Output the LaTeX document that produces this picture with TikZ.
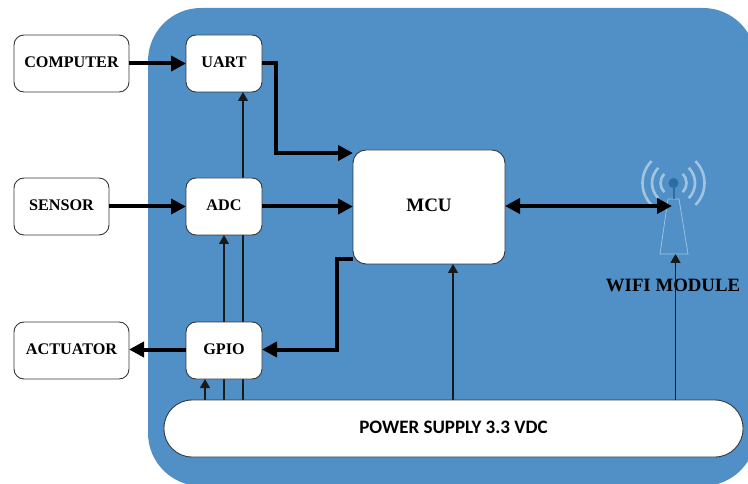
\documentclass[tikz,border=0pt]{standalone}
\usepackage{fontspec}
\setmainfont{Liberation Serif}
\newfontfamily\supplyfont{Carlito}
\usetikzlibrary{arrows.meta,backgrounds}
\definecolor{boardblue}{HTML}{5090C6}
\definecolor{edgegrey}{HTML}{33383D}
\definecolor{mastblue}{HTML}{2F6CA3}
\definecolor{waveblue}{HTML}{A3C4E0}
\tikzset{
	block/.style={draw=edgegrey, fill=white, line width=0.9pt, rounded corners=#1, outer sep=0pt, text depth=2pt, font=\bfseries\fontsize{16.2}{18}\selectfont},
	block/.default=10pt,
	thick wire/.style={line width=4pt, -{Triangle[length=15pt,width=15pt]}},
	thin wire/.style={line width=1.3pt, color=black!90, -{Triangle[length=9pt,width=10pt]}},
}

\begin{document}
\begin{tikzpicture}[x=1pt, y=-1pt]
		%%%%% START %%%%%
		\useasboundingbox (0, 0) rectangle (748, 484);

		\coordinate (antbase) at (675.5, 254);
		\coordinate (antfeed) at (672, 206);

		\node[font=\bfseries\fontsize{18.8}{22}\selectfont] (wifi) at (673, 285.5) {WIFI MODULE};

		\node[block, minimum width=115pt, minimum height=57pt] (computer) at (71.5, 63.5) {COMPUTER};
		\node[block, minimum width=95pt, minimum height=57pt] (sensor) at (61.5, 206.5) {SENSOR};
		\node[block, minimum width=115pt, minimum height=57pt] (actuator) at (71.5, 350.5) {ACTUATOR};

		\node[block, minimum width=76pt, minimum height=57pt] (uart) at (224, 63.5) {UART};
		\node[block, minimum width=76pt, minimum height=57pt] (adc) at (224, 206.5) {ADC};
		\node[block, minimum width=76pt, minimum height=57pt] (gpio) at (224, 350.5) {GPIO};

		\node[block=13pt, minimum width=152pt, minimum height=114pt, text depth=4pt, font=\bfseries\fontsize{19}{22}\selectfont] (mcu) at (429, 207) {MCU};
		\node[block=28pt, minimum width=579pt, minimum height=57pt, font=\supplyfont\bfseries\fontsize{19}{22}\selectfont] (supply) at (453.5, 428.5) {POWER SUPPLY 3.3 VDC};

		% tap points on the supply
		\coordinate (tapone) at (205, 400);
		\coordinate (taptwo) at (224, 400);
		\coordinate (tapthree) at (243, 400);
		\coordinate (tapmcu) at (453, 400);
		\coordinate (tapwifi) at (675.5, 400);

		% board, antenna and the wires that pass behind the boxes
		\begin{scope}[on background layer]
			\fill[boardblue, rounded corners=53pt] (148, 8) rectangle (756, 486);

			\draw[line width=0.7pt, color=waveblue] (668, 199) -- (679, 199) -- (688, 254) -- (660, 254) -- cycle;
			\draw[line width=2pt, color=mastblue] (673.5, 183) -- (673.5, 199);
			\fill[mastblue] (673.5, 183) circle (5);
			\foreach \rad in {13, 21.5, 31} {
				\draw[line width=2.6pt, color=waveblue] (673.5, 183) ++(135:\rad) arc (135:225:\rad);
				\draw[line width=2.6pt, color=waveblue] (673.5, 183) ++(45:\rad) arc (45:-45:\rad);
			}

			\draw[thin wire] (tapone) -- (tapone |- gpio.south);
			\draw[thin wire] (taptwo) -- (taptwo |- adc.south);
			\draw[thin wire] (tapthree) -- (tapthree |- uart.south);
			\draw[thin wire] (tapmcu) -- (tapmcu |- mcu.south);
		\end{scope}

		\draw[thin wire] (tapwifi) -- (antbase);

		\coordinate (mcuout) at (353, 259.5);
		\coordinate (gpiofeed) at (337, 349.5);
		\coordinate (mcuin) at (353, 153);

		\draw[thick wire] (computer.east) -- (uart.west);
		\draw[thick wire] (uart.east) -- ++(14, 0) |- (mcuin);
		\draw[thick wire] (sensor.east) -- (adc.west);
		\draw[thick wire] (adc.east) -- (adc.east -| mcu.west);
		\draw[thick wire] (gpio.west |- gpiofeed) -- (actuator.east |- gpiofeed);
		\draw[thick wire] (mcuout) -| (gpiofeed) -- (gpiofeed -| gpio.east);
		\draw[thick wire, {Triangle[length=15pt,width=15pt]}-{Triangle[length=15pt,width=15pt]}] (antfeed -| mcu.east) -- (antfeed);

		%%%%% END %%%%%
	\end{tikzpicture}
\end{document}
